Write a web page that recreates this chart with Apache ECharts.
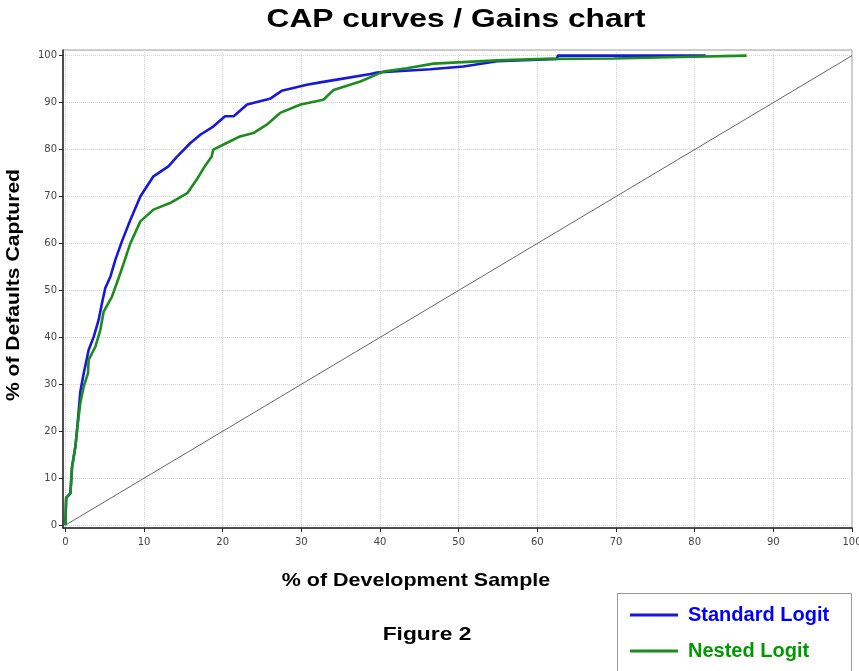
<!DOCTYPE html>
<html><head><meta charset="utf-8">
<script src="https://cdn.jsdelivr.net/npm/echarts@6/dist/echarts.min.js"></script>
<style>html,body{margin:0;padding:0;background:#fff}#c{width:859px;height:671px}</style>
</head><body><div id="c"></div>
<script>
var xTicks = [0,10,20,30,40,50,60,70,80,90,100];
var yTicks = [0,10,20,30,40,50,60,70,80,90,100];
var standardX = [0,0.1,0.64,0.85,1.27,1.49,1.9,2.33,2.96,3.6,4.23,4.66,5.08,5.72,6.35,7.2,8.26,9.53,11.2,13.1,14.2,15.9,17.2,18.8,20.3,21.4,23.1,26.0,27.5,30.7,32.4,34.9,38.8,39.6,46.4,50.6,54.9,62.5,62.6,81.4];
var standardY = [0,5.8,6.8,12.4,16.7,20.3,28.4,32.3,37.3,40.1,43.7,47.3,50.5,52.9,56.5,60.5,65,70,74.3,76.4,78.5,81.4,83.2,84.9,87.1,87.1,89.6,90.8,92.5,93.8,94.3,95.0,96.1,96.4,97.1,97.7,98.8,99.3,100,100];
var nestedX = [0,0.1,0.64,0.85,1.27,1.49,1.9,2.33,2.88,2.96,3.81,4.45,4.87,5.93,7.0,8.26,9.53,11.2,13.3,15.5,16.7,17.6,18.6,18.8,20.5,22.2,23.9,25.6,27.3,29.9,32.8,34.1,37.5,40.4,43.4,46.8,54.9,61.2,69.7,78.1,86.6];
var nestedY = [0,5.8,6.8,12.4,16.7,20.3,26,29.5,32.4,35.2,38,41.6,45.5,48.7,53.7,60,64.7,67.2,68.6,70.7,73.6,76.1,78.5,80,81.4,82.8,83.5,85.3,87.8,89.6,90.6,92.7,94.5,96.6,97.3,98.3,99.0,99.3,99.4,99.7,100];
var diagX = [0,100];
var diagY = [0,100];
function pairs(xs, ys){ return xs.map(function(x,i){ return [x, ys[i]]; }); }

var chart = echarts.init(document.getElementById('c'));
var F = 'Liberation Sans';
var TF = 'DejaVu Sans';
chart.setOption({
  animation:false,
  backgroundColor:'#fff',
  grid:{left:63, top:50, right:7, bottom:143, show:true, borderColor:'#999', borderWidth:1, outerBoundsMode:'none', containLabel:false},
  xAxis:{type:'value', min:-0.3, max:100, interval:10,
    axisLine:{show:true, onZero:false, lineStyle:{color:'#222', width:1.5}},
    axisTick:{show:true, length:4, lineStyle:{color:'#222'}, customValues:xTicks},
    axisLabel:{fontFamily:TF, fontSize:10, color:'#444', margin:9, customValues:xTicks},
    splitLine:{show:true, lineStyle:{color:'#d4d4d4', type:'dotted'}}
  },
  yAxis:{type:'value', min:-0.6, max:101.2, interval:10,
    axisLine:{show:true, onZero:false, lineStyle:{color:'#222', width:1.5}},
    axisTick:{show:true, length:4, lineStyle:{color:'#222'}, customValues:yTicks},
    axisLabel:{fontFamily:TF, fontSize:10, color:'#444', margin:6, customValues:yTicks},
    splitLine:{show:true, lineStyle:{color:'#d4d4d4', type:'dotted'}}
  },
  legend:{orient:'vertical', left:617, top:593, padding:[12,16,4,13], itemGap:16,
    icon:'rect', itemWidth:48, itemHeight:3,
    textStyle:{fontFamily:F, fontSize:20, fontWeight:'bold', lineHeight:20, padding:[0,0,0,5]},
    data:[{name:'Standard Logit', textStyle:{color:'#0000ff'}},{name:'Nested Logit', textStyle:{color:'#009900'}}]
  },
  graphic:[
    {type:'rect', z:-1, shape:{x:617.5, y:593.5, width:234, height:90}, style:{fill:'#fff', stroke:'#999', lineWidth:1}},
    {type:'text', x:456, y:20, scaleX:1.22, style:{text:'CAP curves / Gains chart', x:0, y:0, align:'center', verticalAlign:'middle', font:'bold 26px "Liberation Sans"', fill:'#000'}},
    {type:'text', x:416, y:581, scaleX:1.13, style:{text:'% of Development Sample', x:0, y:0, align:'center', verticalAlign:'middle', font:'bold 19px "Liberation Sans"', fill:'#000'}},
    {type:'text', x:427, y:635, scaleX:1.2, style:{text:'Figure 2', x:0, y:0, align:'center', verticalAlign:'middle', font:'bold 19px "Liberation Sans"', fill:'#000'}},
    {type:'text', x:14, y:285, rotation:Math.PI/2, scaleX:1.11, style:{text:'% of Defaults Captured', x:0, y:0, align:'center', verticalAlign:'middle', font:'bold 19px "Liberation Sans"', fill:'#000'}}
  ],
  series:[
    {name:'Diagonal', type:'line', data:pairs(diagX, diagY), showSymbol:false, lineStyle:{color:'#666', width:1}, silent:true},
    {name:'Standard Logit', type:'line', data:pairs(standardX, standardY), showSymbol:false, color:'#1818dc', lineStyle:{width:2.6}},
    {name:'Nested Logit', type:'line', data:pairs(nestedX, nestedY), showSymbol:false, color:'#1c8c1c', lineStyle:{width:2.6}}
  ]
});
</script></body></html>
